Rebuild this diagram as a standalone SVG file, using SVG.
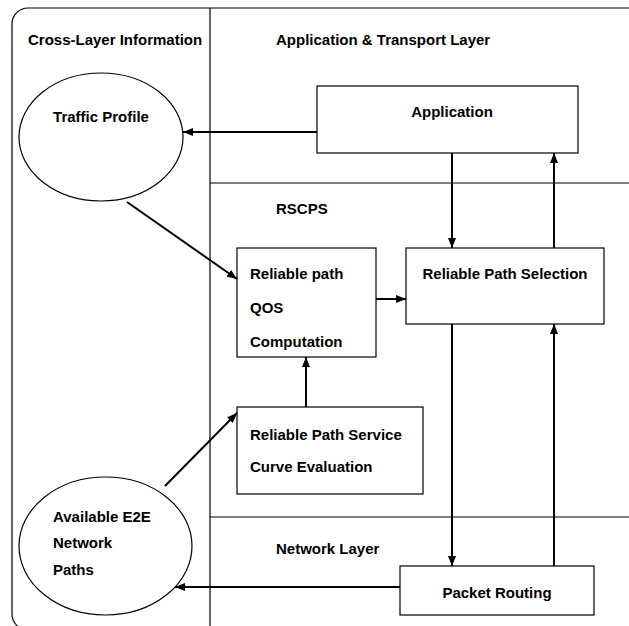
<svg xmlns="http://www.w3.org/2000/svg" width="629" height="626" viewBox="0 0 629 626">
<defs>
<marker id="arr" markerWidth="10" markerHeight="8" refX="10" refY="4" orient="auto" markerUnits="userSpaceOnUse">
<path d="M0,0 L10,4 L0,8 Z" fill="#000"/>
</marker>
<style>
text{font-family:"Liberation Sans",Arial,sans-serif;font-weight:bold;font-size:15px;fill:#000}
.frame{fill:none;stroke:#000;stroke-width:1.2}
.node{fill:#fff;stroke:#000;stroke-width:1.2}
.conn{fill:none;stroke:#000;stroke-width:2;marker-end:url(#arr)}
.mid{text-anchor:middle}
</style>
</defs>
<rect width="629" height="626" fill="#fff"/>
<g id="frame">
<rect class="frame" x="12" y="8" width="640" height="622" rx="16"/>
<line class="frame" x1="210" y1="8" x2="210" y2="626"/>
<line class="frame" x1="210" y1="183" x2="629" y2="183"/>
<line class="frame" x1="210" y1="517" x2="629" y2="517"/>
<text x="28" y="45">Cross-Layer Information</text>
<text x="276" y="45">Application &amp; Transport Layer</text>
<text x="276" y="214">RSCPS</text>
<text x="276" y="554">Network Layer</text>
</g>
<g id="traffic-profile">
<ellipse class="node" cx="101" cy="137" rx="82" ry="64"/>
<text class="mid" x="101" y="122">Traffic Profile</text>
</g>
<g id="available-paths">
<ellipse class="node" cx="105.5" cy="546" rx="86.5" ry="69"/>
<text x="53" y="522">Available E2E</text>
<text x="53" y="548">Network</text>
<text x="53" y="575">Paths</text>
</g>
<g id="application">
<rect class="node" x="317" y="86" width="261" height="67"/>
<text class="mid" x="452" y="117">Application</text>
</g>
<g id="rpqc">
<rect class="node" x="237" y="248" width="139" height="109"/>
<text x="250" y="279">Reliable path</text>
<text x="250" y="313">QOS</text>
<text x="250" y="347">Computation</text>
</g>
<g id="rps">
<rect class="node" x="406" y="248" width="198" height="76"/>
<text class="mid" x="505" y="279">Reliable Path Selection</text>
</g>
<g id="rpsce">
<rect class="node" x="237" y="407" width="186" height="87"/>
<text x="250" y="440">Reliable Path Service</text>
<text x="250" y="472">Curve Evaluation</text>
</g>
<g id="packet-routing">
<rect class="node" x="400" y="566" width="194" height="49"/>
<text class="mid" x="497" y="598">Packet Routing</text>
</g>
<g id="connectors">
<line class="conn" x1="317" y1="132" x2="183" y2="132"/>
<line class="conn" x1="452" y1="153" x2="452" y2="248"/>
<line class="conn" x1="554" y1="248" x2="554" y2="153"/>
<line class="conn" x1="127" y1="202" x2="237" y2="279"/>
<line class="conn" x1="376" y1="299" x2="406" y2="299"/>
<line class="conn" x1="306" y1="407" x2="306" y2="357"/>
<line class="conn" x1="165" y1="486" x2="237" y2="413"/>
<line class="conn" x1="452" y1="324" x2="452" y2="566"/>
<line class="conn" x1="554" y1="566" x2="554" y2="324"/>
<line class="conn" x1="400" y1="587" x2="175" y2="587"/>
</g>
</svg>
